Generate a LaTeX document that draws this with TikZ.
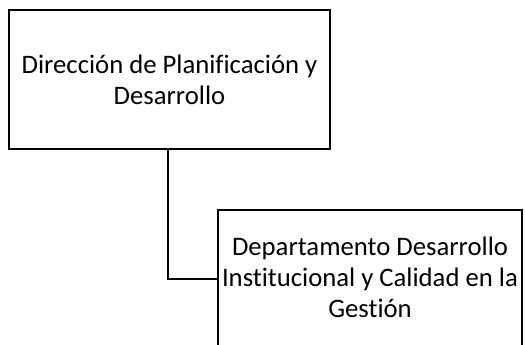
\documentclass[tikz,border=0pt]{standalone}
\usepackage{fontspec}
\setmainfont{Carlito}[Ligatures={NoCommon}]
\begin{document}
\begin{tikzpicture}[x=1pt,y=-1pt,
  orgbox/.style={draw=black, line width=1.3pt, fill=white, rectangle, inner sep=0pt,
    align=center, font=\fontsize{26.7}{31}\selectfont},
  link/.style={draw=black, line width=1.3pt}]
\useasboundingbox (0,0) rectangle (525,345);
\clip (0,0) rectangle (525,345);
\fill[white] (0,0) rectangle (525,345);
\node[orgbox, minimum width=321pt, minimum height=139pt] (dir) at (169.5,79.5)
  {Dirección de Planificación y\\Desarrollo};
\node[orgbox, minimum width=304pt, minimum height=138pt] (dep) at (370,279) {};
\node[align=center, inner sep=0pt, font=\fontsize{26.7}{31}\selectfont] (deptext) at (370,277)
  {Departamento Desarrollo\\Institucional y Calidad en la\\Gestión};
\draw[link] (dir.south -| 168,0) |- (dep.west);
\end{tikzpicture}
\end{document}
